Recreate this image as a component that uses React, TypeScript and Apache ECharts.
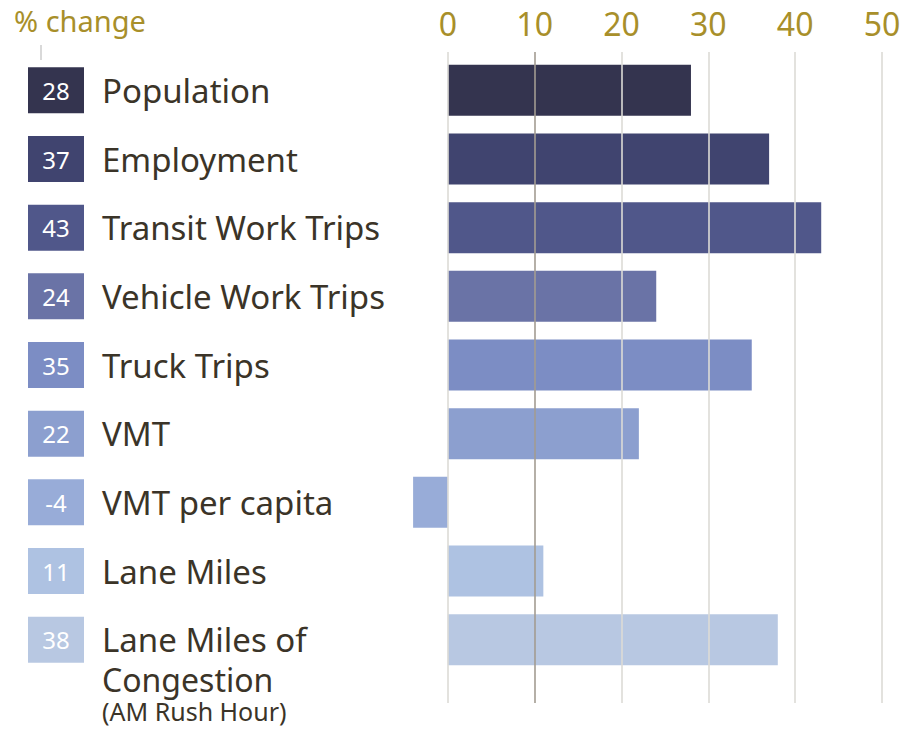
import React, { useEffect, useRef } from "react";
import * as echarts from "echarts";

const categories = [
  "Population",
  "Employment",
  "Transit Work Trips",
  "Vehicle Work Trips",
  "Truck Trips",
  "VMT",
  "VMT per capita",
  "Lane Miles",
  "Lane Miles of Congestion (AM Rush Hour)",
];
const values = [28, 37, 43, 24, 35, 22, -4, 11, 38];
const colors = [
  "#34344f",
  "#40446f",
  "#50578a",
  "#6a73a6",
  "#7c8dc4",
  "#8c9fcf",
  "#98acd8",
  "#aec2e2",
  "#b8c8e2",
];
const tickValues = [0, 10, 20, 30, 40, 50];

const FONT = "Noto Sans";
const GOLD = "#a88f2a";
const TEXT = "#3b3428";

export default function App() {
  const ref = useRef<HTMLDivElement>(null);
  useEffect(() => {
    if (!ref.current) return;
    const chart = echarts.init(ref.current, null, { renderer: "svg" });
    const rich: any = {
      gap: { width: 18 },
      ind: { width: 74, lineHeight: 34 },
      ind2: { width: 74, lineHeight: 28 },
      sp: { width: 1, lineHeight: 34 },
      sp2: { width: 1, lineHeight: 28 },
      name: { fontSize: 33, color: TEXT, fontFamily: FONT, lineHeight: 36 },
      name2: { fontSize: 32, color: TEXT, fontFamily: FONT, lineHeight: 34 },
      small: { fontSize: 25, color: TEXT, fontFamily: FONT, lineHeight: 28 },
    };
    colors.forEach((c, i) => {
      rich["b" + i] = {
        width: 56,
        height: 46,
        lineHeight: 46,
        backgroundColor: c,
        color: "#ffffff",
        fontSize: 24,
        fontFamily: FONT,
        align: "center",
      };
    });
    const labelFor = (i: number) => {
      const box = `{b${i}|${values[i]}}{gap|}`;
      if (i === categories.length - 1) {
        return `{sp2|}\n{sp|}\n${box}{name|Lane Miles of}\n{ind|}{name2|Congestion}\n{ind2|}{small|(AM Rush Hour)}`;
      }
      return `${box}{name|${categories[i]}}`;
    };
    const option: any = {
      animation: false,
      grid: [
        { left: 361, right: 24, top: 56, bottom: 55, outerBoundsMode: "none", containLabel: false },
        { left: 361, right: 24, top: 52, bottom: 26, outerBoundsMode: "none", containLabel: false },
      ],
      graphic: [
        {
          type: "text",
          left: 14,
          top: 6,
          style: { text: "% change", fill: GOLD, fontSize: 29, fontFamily: FONT },
        },
        {
          type: "line",
          shape: { x1: 41, y1: 45, x2: 41, y2: 60 },
          style: { stroke: "#cccccc", lineWidth: 1.5 },
        },
      ],
      xAxis: [
        {
          gridIndex: 0,
          type: "value",
          position: "top",
          min: -10,
          max: 50,
          interval: 10,
          axisLine: { show: false },
          axisTick: { show: false },
          splitLine: { show: false },
          axisLabel: {
            margin: 17,
            fontSize: 32,
            color: GOLD,
            fontFamily: FONT,
            formatter: (v: number) => (v < 0 ? "" : String(v)),
          },
        },
        {
          gridIndex: 1,
          type: "value",
          min: -10,
          max: 50,
          interval: 10,
          show: false,
        },
      ],
      yAxis: [
        {
          gridIndex: 0,
          type: "category",
          inverse: true,
          data: categories,
          axisLine: { show: false },
          axisTick: { show: false },
          axisLabel: {
            interval: 0,
            hideOverlap: false,
            align: "left",
            margin: 333,
            lineHeight: 34,
            fontFamily: FONT,
            formatter: (_v: string, i: number) => labelFor(i),
            rich,
          },
        },
        { gridIndex: 1, type: "value", min: 0, max: 1, show: false },
      ],
      series: [
        {
          type: "scatter",
          xAxisIndex: 1,
          yAxisIndex: 1,
          data: [[0, 0]],
          symbolSize: 0,
          silent: true,
          z: 0,
          markLine: {
            silent: true,
            symbol: ["none", "none"],
            label: { show: false },
            emphasis: { disabled: true },
            data: tickValues.map((v) => ({
              xAxis: v,
              lineStyle: {
                color: v === 10 ? "#a39c92" : "#dcdbd6",
                width: 1.6,
                type: "solid",
              },
            })),
          },
        },
        {
          type: "bar",
          xAxisIndex: 0,
          yAxisIndex: 0,
          barWidth: 51,
          z: 3,
          data: values.map((v, i) => ({ value: v, itemStyle: { color: colors[i] } })),
        },
      ],
    };
    chart.setOption(option);
    return () => chart.dispose();
  }, []);
  return (
    <div
      ref={ref}
      style={{ position: "fixed", left: 0, top: 0, width: 906, height: 729, background: "#fff" }}
    />
  );
}
